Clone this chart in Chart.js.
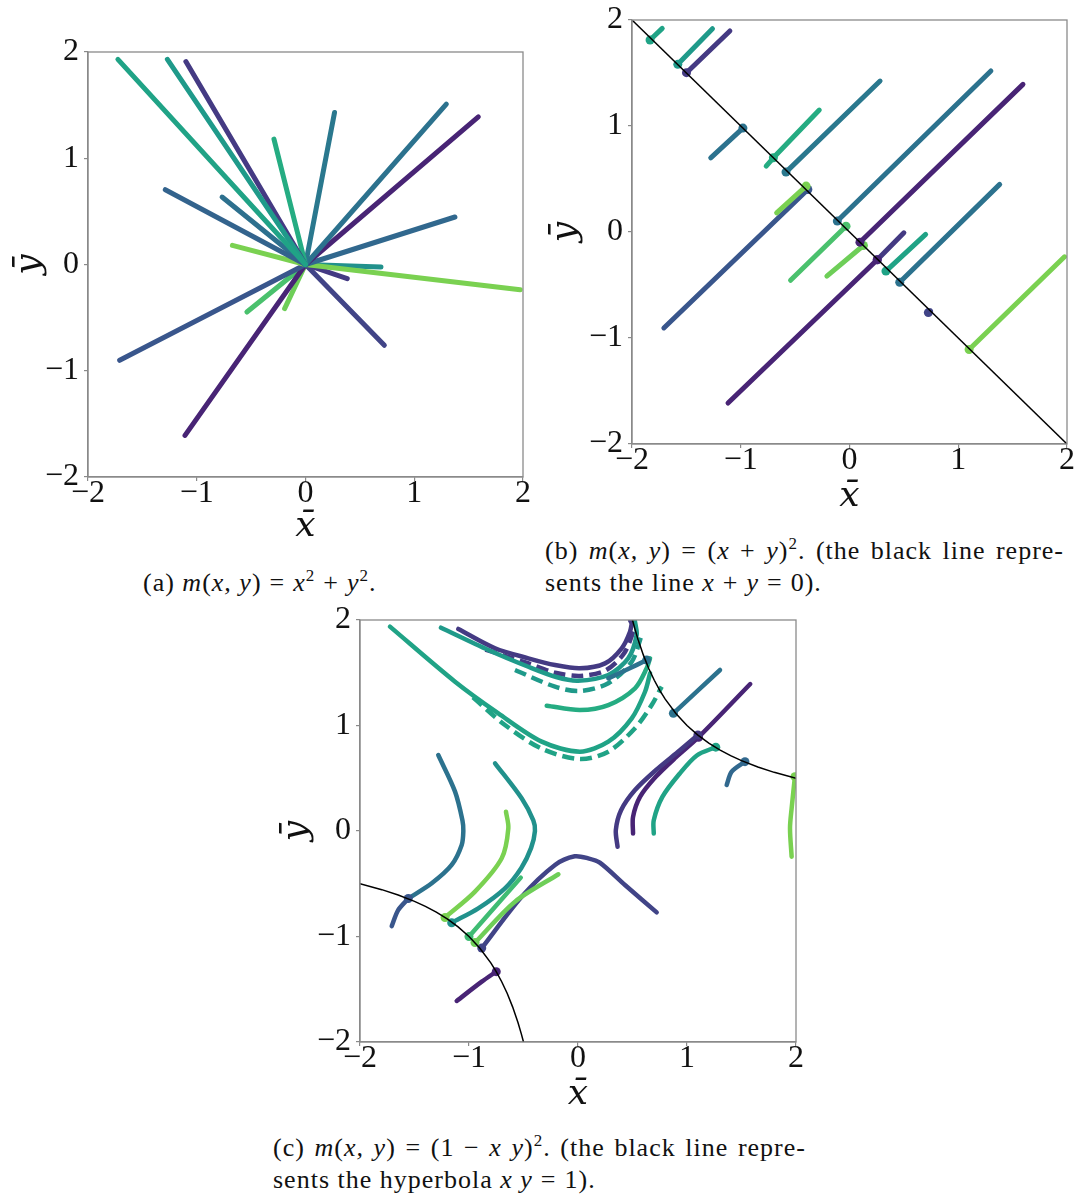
<!DOCTYPE html>
<html>
<head>
<meta charset="utf-8">
<script src="https://cdn.jsdelivr.net/npm/chart.js@4.4.1/dist/chart.umd.min.js"></script>
<style>
  body { margin: 0; background: #fff; }
  #page { position: relative; width: 1084px; height: 1197px; overflow: hidden; }
  canvas { position: absolute; }
  .cap { position: absolute; font: 26px/32px 'Liberation Serif', serif; letter-spacing: 1px; color: #111; white-space: nowrap; }
  .cap.line { white-space: normal; text-align: justify; text-align-last: justify; }
  .cap sup { font-size: 17px; line-height: 0; vertical-align: 10px; }
  .cap .op { margin: 0 8px; }
</style>
</head>
<body>
<div id="page">
  <canvas id="ca" width="540" height="520" style="left:0px;top:30px;"></canvas>
  <canvas id="cb" width="544" height="520" style="left:540px;top:0px;"></canvas>
  <canvas id="cc" width="540" height="520" style="left:270px;top:600px;"></canvas>

  <div class="cap" style="left:143px;top:567px;">(a) <i>m</i>(<i>x, y</i>)<span class="op">=</span><i>x</i><sup>2</sup><span class="op">+</span><i>y</i><sup>2</sup>.</div>
  <div class="cap line" style="left:545px;top:535px;width:519px;">(b) <i>m</i>(<i>x, y</i>) = (<i>x</i> + <i>y</i>)<sup>2</sup>. (the black line repre-</div>
  <div class="cap" style="left:545px;top:567px;">sents the line <i>x</i><span class="op">+</span><i>y</i><span class="op">=</span>0).</div>
  <div class="cap line" style="left:273px;top:1132px;width:533px;">(c) <i>m</i>(<i>x, y</i>) = (1 − <i>x y</i>)<sup>2</sup>. (the black line repre-</div>
  <div class="cap" style="left:273px;top:1164px;">sents the hyperbola <i>x y</i><span class="op">=</span>1).</div>
</div>
<script>
// деления осей
const tickVals = [-2, -1, 0, 1, 2];
const tickText = ['\u22122', '\u22121', '0', '1', '2'];

// (a) m = x^2 + y^2 : каждая траектория идёт из стартовой точки в начало координат
const aOrigin = [0, 0];
const aStarts = [
  [-1.725, 1.93], [-1.27, 1.93], [-1.10, 1.91], [-0.29, 1.18], [0.267, 1.43],
  [1.295, 1.51], [1.589, 1.39], [1.374, 0.447], [-1.289, 0.704], [-0.767, 0.635],
  [-0.672, 0.18], [1.974, -0.237], [0.694, -0.024], [0.384, -0.133], [0.725, -0.76],
  [-1.709, -0.902], [-1.108, -1.608], [-0.539, -0.447], [-0.192, -0.415]
];
const aColors = [
  '#20a386', '#1f9a8a', '#443a83', '#25ac82', '#2a788e',
  '#2c728e', '#482475', '#31688e', '#33638d', '#2d708e',
  '#7ad151', '#7ad151', '#21918c', '#443a83', '#414487',
  '#39568c', '#482475', '#4ac16d', '#6ece58'
];

// (b) m = (x + y)^2 : отрезки вдоль (1,1) до прямой x + y = 0
const bLine = [[-2, 2], [2, -2]];
const bPaths = [
  [[-1.834, 1.811], [-1.722, 1.921]],
  [[-1.579, 1.582], [-1.26, 1.918]],
  [[-1.499, 1.503], [-1.10, 1.896]],
  [[-1.276, 0.70], [-0.98, 0.98]],
  [[-0.766, 0.622], [-0.70, 0.70], [-0.278, 1.15]],
  [[-0.584, 0.565], [0.281, 1.424]],
  [[-0.112, 0.103], [1.30, 1.519]],
  [[0.096, -0.096], [1.595, 1.393]],
  [[-0.670, 0.181], [-0.399, 0.433]],
  [[-1.707, -0.905], [-0.383, 0.401]],
  [[-0.542, -0.455], [-0.032, 0.055]],
  [[-0.208, -0.417], [0.128, -0.127]],
  [[-1.117, -1.613], [0.255, -0.262]],
  [[0.255, -0.262], [0.50, -0.008]],
  [[0.335, -0.369], [0.70, -0.023]],
  [[0.462, -0.474], [1.381, 0.449]],
  [[0.725, -0.76], [0.745, -0.745]],
  [[1.10, -1.109], [1.977, -0.234]]
];
const bColors = [
  '#20a386', '#1f9a8a', '#443a83', '#2c728e', '#25ac82', '#2a788e',
  '#2c728e', '#482475', '#7ad151', '#39568c', '#4ac16d', '#6ece58',
  '#482475', '#443a83', '#20a386', '#2c728e', '#414487', '#7ad151'
];
const bMarks = [0, 0, 0, 1, 1, 0, 0, 0, 1, 1, 1, 1, 1, 0, 0, 0, 0, 0];

// (c) m = (1 - xy)^2 : гипербола xy = 1 и траектории
const hypX = [0.5, 0.52, 0.55, 0.6, 0.65, 0.7, 0.75, 0.8, 0.9, 1.0, 1.1, 1.2, 1.3, 1.4, 1.5, 1.65, 1.8, 2.0];
const hypY = [2.0, 1.923, 1.818, 1.667, 1.538, 1.429, 1.333, 1.25, 1.111, 1.0, 0.909, 0.833, 0.769, 0.714, 0.667, 0.606, 0.556, 0.5];
const cPaths = [
  [[-0.18, -0.41], [-0.578, -0.67], [-0.945, -1.058]],
  [[-0.661, 0.183], [-0.639, 0.026], [-0.7, -0.259], [-0.945, -0.575], [-1.22, -0.82]],
  [[-0.525, -0.442], [-1.0, -1.0]],
  [[0.722, -0.771], [0.431, -0.512], [0.2, -0.3], [0.094, -0.259], [-0.03, -0.24], [-0.211, -0.322], [-0.517, -0.623], [-0.883, -1.11]],
  [[-1.113, -1.611], [-0.883, -1.428], [-0.75, -1.333]],
  [[-0.761, 0.642], [-0.517, 0.31], [-0.41, 0.1], [-0.395, 0.0], [-0.43, -0.16], [-0.52, -0.35], [-0.67, -0.543], [-0.915, -0.733], [-1.159, -0.87]],
  [[-1.709, -0.902], [-1.65, -0.75], [-1.557, -0.64]],
  [[-1.282, 0.72], [-1.128, 0.373], [-1.06, 0.1], [-1.052, 0.0], [-1.067, -0.133], [-1.159, -0.322], [-1.342, -0.496], [-1.557, -0.64]],
  [[1.96, -0.243], [1.945, 0.026], [1.96, 0.215], [1.99, 0.515]],
  [[1.364, 0.436], [1.41, 0.562], [1.532, 0.657]],
  [[0.695, -0.024], [0.695, 0.102], [0.774, 0.323], [0.932, 0.543], [1.09, 0.716], [1.264, 0.795]],
  [[0.363, -0.15], [0.347, 0.008], [0.395, 0.197], [0.521, 0.386], [0.711, 0.574], [0.932, 0.763], [1.10, 0.91]],
  [[1.58, 1.393], [1.106, 0.889], [0.90, 0.70], [0.711, 0.511], [0.569, 0.323], [0.505, 0.134], [0.505, -0.024]],
  [[0.875, 1.115], [1.303, 1.526]],
  [[0.278, 1.447], [0.45, 1.53], [0.63, 1.62]],
  [[-0.287, 1.188], [0.018, 1.147], [0.278, 1.194], [0.523, 1.353], [0.63, 1.542], [0.661, 1.637]],
  [[-0.964, 1.267], [-0.67, 1.005], [-0.333, 0.78], [0.018, 0.682], [0.278, 0.752], [0.523, 0.974], [0.676, 1.194], [0.768, 1.368]],
  [[-1.725, 1.937], [-1.128, 1.415], [-0.731, 1.115], [-0.333, 0.847], [0.018, 0.752], [0.278, 0.847], [0.493, 1.068], [0.615, 1.32], [0.661, 1.495]],
  [[-0.578, 1.526], [-0.211, 1.368], [0.018, 1.327], [0.278, 1.40], [0.493, 1.605], [0.584, 1.858]],
  [[-1.257, 1.927], [-0.823, 1.716], [-0.456, 1.557], [-0.2, 1.46], [0.0, 1.425], [0.278, 1.479], [0.461, 1.637], [0.538, 1.858], [0.523, 1.984]],
  [[-0.85, 1.72], [-0.46, 1.59], [-0.21, 1.50], [0.02, 1.47], [0.25, 1.52], [0.42, 1.68], [0.52, 1.92]],
  [[-1.098, 1.915], [-0.761, 1.732], [-0.456, 1.637], [-0.211, 1.573], [0.018, 1.542], [0.248, 1.589], [0.401, 1.732], [0.477, 1.889], [0.499, 2.0]]
];
const cColors = [
  '#6ece58', '#7ad151', '#3fbc73', '#414487', '#482475', '#21918c', '#39568c', '#2c728e',
  '#7ad151', '#31688e', '#20a386', '#443a83', '#482475', '#2c728e', '#2c728e', '#25ac82',
  '#20a386', '#20a386', '#1f9a8a', '#1f9a8a', '#443a83', '#443a83'
];
const cDashed = [
  false, false, false, false, false, false, false, false,
  false, false, false, false, false, false, false, false,
  true, false, true, false, true, false
];
const cMarks = [2, 4, 1, 7, 2, 8, 2, -1, 3, 2, 5, 6, 1, 0, 2, -1, -1, -1, -1, -1, -1, 8];

const serif = "'Liberation Serif', serif";
const titleFamily = "'DejaVu Serif', serif";
const axisGray = '#8a8a8a';

// рамка вокруг области графика (как у matplotlib)
const framePlugin = {
  id: 'frame',
  afterDatasetsDraw(chart) {
    const { ctx, chartArea: a } = chart;
    ctx.save();
    ctx.strokeStyle = axisGray;
    ctx.lineWidth = 1.3;
    ctx.strokeRect(a.left, a.top, a.right - a.left, a.bottom - a.top);
    ctx.restore();
  }
};

function toPts(arr) {
  return arr.map(p => ({ x: p[0], y: p[1] }));
}

function trajectory(path, color, mark, dashed, width, tension) {
  return {
    data: toPts(path),
    showLine: true,
    borderColor: color,
    backgroundColor: color,
    borderWidth: width,
    borderDash: dashed ? [12, 6] : [],
    borderCapStyle: dashed ? 'butt' : 'round',
    borderJoinStyle: 'round',
    tension: tension,
    pointRadius: ctx => (ctx.dataIndex === mark ? 4.5 : 0),
    pointBorderWidth: 0,
    pointBackgroundColor: color
  };
}

function blackLine(path) {
  return {
    data: toPts(path),
    showLine: true,
    borderColor: '#000',
    borderWidth: 1.5,
    pointRadius: 0,
    tension: 0
  };
}

function axis(id, lay) {
  const isX = id === 'x';
  return {
    type: 'linear',
    position: isX ? 'bottom' : 'left',
    min: -2,
    max: 2,
    afterFit: s => {
      if (isX) { s.height = lay.xh; s.paddingLeft = 0; s.paddingRight = 0; }
      else { s.width = lay.yw; s.paddingTop = 0; s.paddingBottom = 0; }
    },
    ticks: {
      stepSize: 1,
      autoSkip: false,
      maxRotation: 0,
      color: '#111',
      padding: isX ? -3 : 5,
      font: { family: serif, size: 32, lineHeight: 1 },
      callback: v => tickText[tickVals.indexOf(v)]
    },
    grid: { drawOnChartArea: false, drawTicks: true, tickLength: 4, color: axisGray, lineWidth: 1.2 },
    border: { display: true, color: axisGray, width: 1.3 },
    title: {
      display: true,
      text: isX ? 'x\u0304' : 'y\u0304',
      color: '#111',
      font: { family: titleFamily, size: 36, style: 'italic', lineHeight: 1 },
      padding: isX ? { top: 0, bottom: lay.xt } : { top: lay.yt, bottom: 0 }
    }
  };
}

function makeChart(id, datasets, lay) {
  return new Chart(document.getElementById(id).getContext('2d'), {
    type: 'scatter',
    data: { datasets: datasets },
    options: {
      responsive: false,
      animation: false,
      events: [],
      layout: { padding: { left: 0, top: lay.top, right: lay.right, bottom: 0 } },
      plugins: { legend: { display: false }, tooltip: { enabled: false } },
      scales: { x: axis('x', lay), y: axis('y', lay) }
    },
    plugins: [framePlugin]
  });
}

// (a)
const aSets = aStarts.map((s, i) => trajectory([s, aOrigin], aColors[i], -1, false, 5, 0));
makeChart('ca', aSets, { top: 22, right: 17, yw: 88, xh: 73, yt: 12, xt: 5 });

// (b)
const bSets = [blackLine(bLine)].concat(
  bPaths.map((p, i) => trajectory(p, bColors[i], bMarks[i], false, 5, 0))
);
makeChart('cb', bSets, { top: 20, right: 17, yw: 92, xh: 76, yt: 8, xt: 5 });

// (c)
const hypRight = hypX.map((x, i) => [x, hypY[i]]);
const hypLeft = hypX.map((x, i) => [-x, -hypY[i]]);
const cSets = [blackLine(hypRight), blackLine(hypLeft)].concat(
  cPaths.map((p, i) => trajectory(p, cColors[i], cMarks[i], cDashed[i], 4.5, 0.3))
);
makeChart('cc', cSets, { top: 20, right: 14, yw: 90, xh: 78, yt: 9, xt: 7 });
</script>
</body>
</html>
